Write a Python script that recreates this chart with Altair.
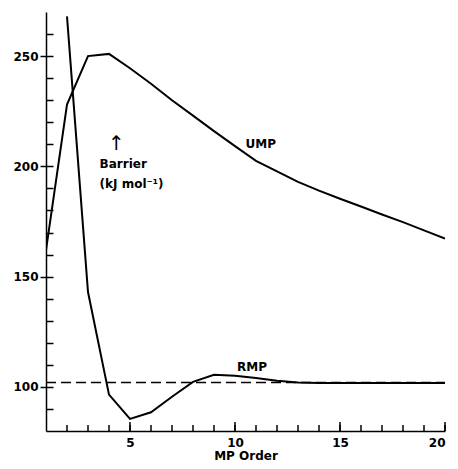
import altair as alt
import pandas as pd

orders = list(range(1, 21))
ump = [162, 228, 250, 251, 244.5, 237.5, 230, 223, 216, 209.2, 202.5, 197.7, 193,
       189, 185.3, 181.8, 178.2, 174.7, 171, 167.3]
rmp_orders = list(range(2, 21))
rmp = [268, 143, 96.5, 85.5, 88.5, 95.5, 102.3, 105.5, 105, 104, 102.8, 102, 101.8,
       101.8, 101.8, 101.8, 101.8, 101.8, 101.8]
limit_value = 102

x_labels = [5, 10, 15, 20]
x_minor = list(range(2, 21))
y_labels = [100, 150, 200, 250]
y_minor = list(range(90, 270, 10))

ann_x = [10.5, 10.1, 3.55, 3.55]
ann_y = [210, 109, 201, 192]
ann_text = ["UMP", "RMP", "Barrier", "(kJ mol⁻¹)"]
arrow_x = [4.35]
arrow_y = [210]

FONT = "DejaVu Sans"
W, H = 399, 419

df = pd.DataFrame(
    {"order": orders + rmp_orders,
     "barrier": ump + rmp,
     "series": ["UMP"] * len(orders) + ["RMP"] * len(rmp_orders)}
)

xscale = alt.Scale(domain=[1, 20], nice=False)
yscale = alt.Scale(domain=[80, 270], nice=False)

lines = alt.Chart(df).mark_line(color="black", strokeWidth=2, clip=True).encode(
    x=alt.X("order:Q", scale=xscale,
            axis=alt.Axis(values=x_labels, tickSize=0, labelPadding=6, grid=False,
                          title="MP Order", titleFontSize=12, titleFont=FONT,
                          titleFontWeight="bold", titlePadding=2,
                          labelFont=FONT, labelFontWeight="bold", labelFontSize=12,
                          domainColor="black", domainWidth=1.5, labelColor="black",
                          titleColor="black", orient="bottom")),
    y=alt.Y("barrier:Q", scale=yscale,
            axis=alt.Axis(values=y_labels, tickSize=6, tickColor="black", tickWidth=1.5,
                          labelPadding=2, grid=False, title=None,
                          labelFont=FONT, labelFontWeight="bold", labelFontSize=12,
                          domainColor="black", domainWidth=1.5, labelColor="black",
                          orient="left")),
    detail="series:N",
)

dash_df = pd.DataFrame({"y": [limit_value], "x1": [1], "x2": [20]})
dashed = alt.Chart(dash_df).mark_rule(color="black", strokeWidth=1.5,
                                      strokeDash=[10, 5]).encode(
    y=alt.Y("y:Q", scale=yscale,
            axis=alt.Axis(values=y_minor, tickSize=7, tickColor="black", tickWidth=1.5,
                          offset=-7, domain=False, labels=False, grid=False,
                          title=None, orient="left")),
    x=alt.X("x1:Q", scale=xscale, axis=None),
    x2="x2:Q",
)

minor_df = pd.DataFrame({"x": x_minor})
minor_ticks = alt.Chart(minor_df).mark_rule(color="black", strokeWidth=1.5).encode(
    x=alt.X("x:Q", scale=xscale, axis=None),
    y=alt.value(H - 6),
    y2=alt.value(H),
)

major_df = pd.DataFrame({"x": x_labels})
major_ticks = alt.Chart(major_df).mark_rule(color="black", strokeWidth=1.5).encode(
    x=alt.X("x:Q", scale=xscale, axis=None),
    y=alt.value(H - 9),
    y2=alt.value(H),
)

ann_df = pd.DataFrame({"x": ann_x, "y": ann_y, "t": ann_text})
ann = alt.Chart(ann_df).mark_text(align="left", baseline="middle", font=FONT,
                                  fontWeight="bold", fontSize=12, color="black").encode(
    x=alt.X("x:Q", scale=xscale, axis=None),
    y=alt.Y("y:Q", scale=yscale, axis=None),
    text="t:N",
)

arr_df = pd.DataFrame({"x": arrow_x, "y": arrow_y, "t": ["↑"]})
arrow = alt.Chart(arr_df).mark_text(align="center", baseline="middle", font=FONT,
                                    fontSize=20, color="black").encode(
    x=alt.X("x:Q", scale=xscale, axis=None),
    y=alt.Y("y:Q", scale=yscale, axis=None),
    text="t:N",
)

chart = alt.layer(dashed, minor_ticks, major_ticks, ann, lines, arrow).resolve_axis(
    x="independent", y="independent"
).properties(
    width=W, height=H,
    autosize=alt.AutoSizeParams(type="none"),
    padding={"left": 38, "top": 4, "right": 5, "bottom": 30},
    background="white",
).configure_view(stroke=None)

chart.save("out.html", embed_options={"renderer": "svg", "actions": False})
